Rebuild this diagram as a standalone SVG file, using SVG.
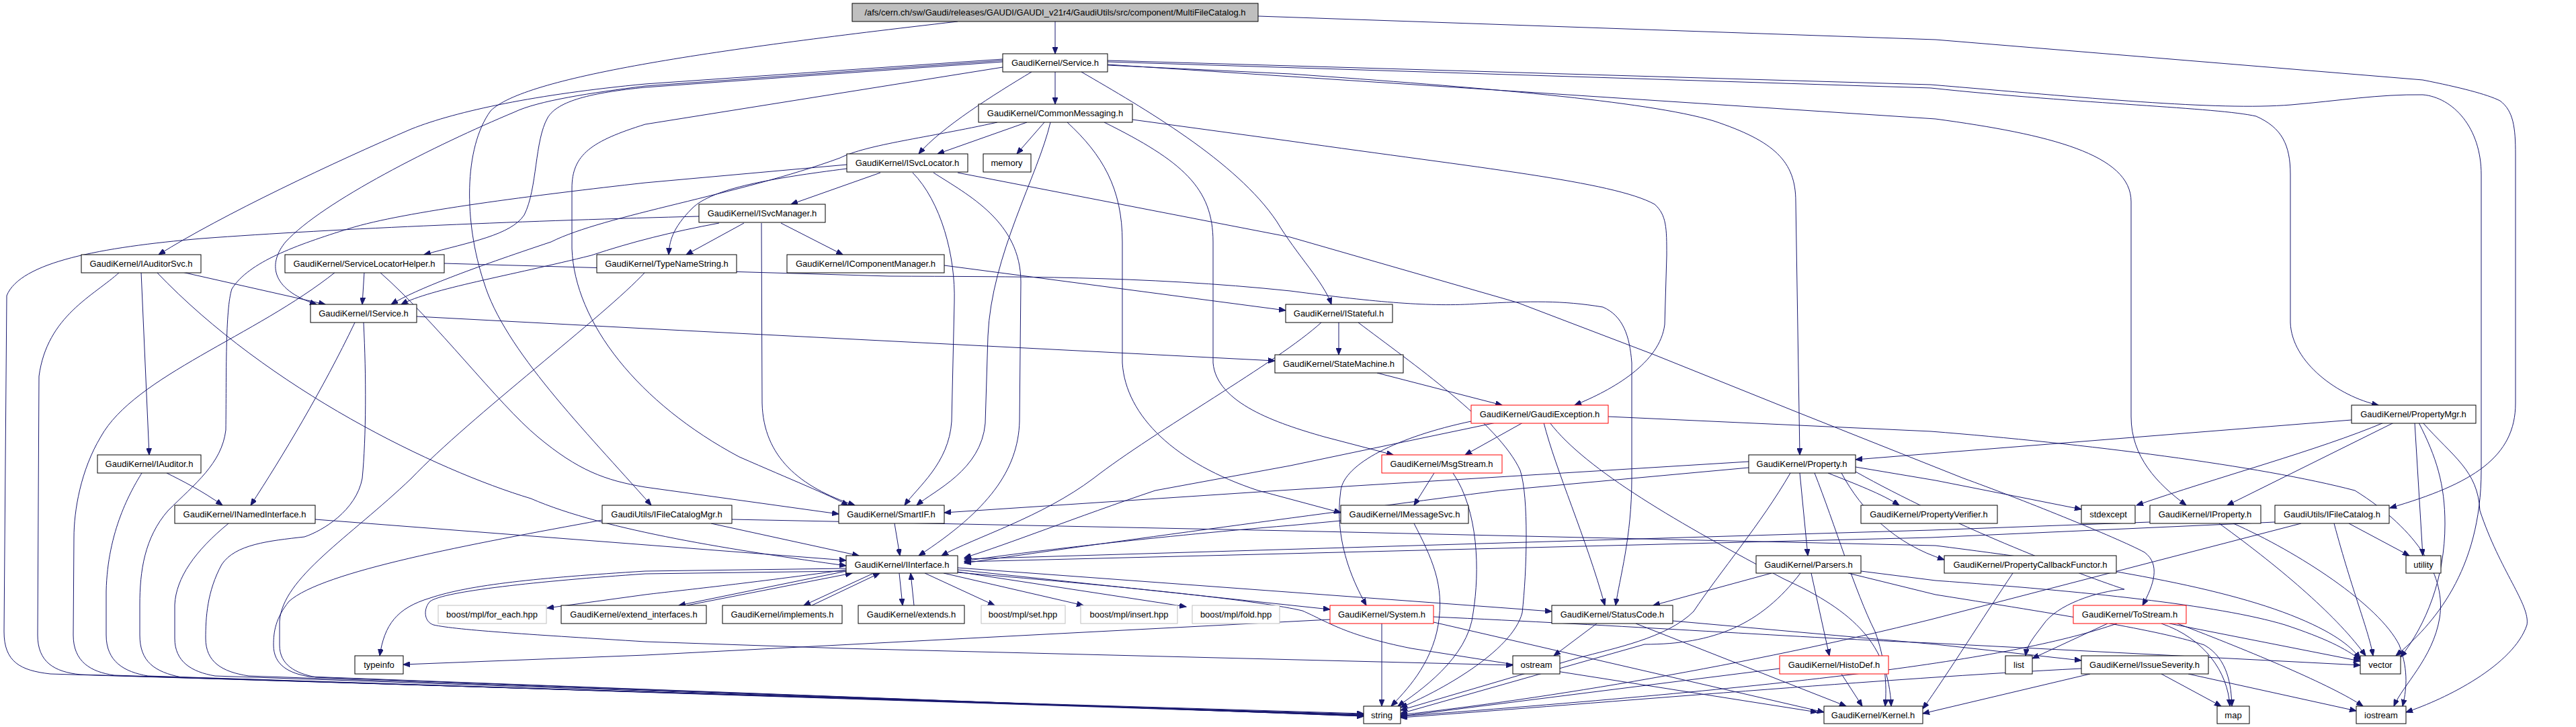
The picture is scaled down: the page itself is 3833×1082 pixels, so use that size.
<svg xmlns="http://www.w3.org/2000/svg" width="3833" height="1082" viewBox="0 0 3833 1082">
<style>
.n rect{fill:#fff;stroke:#000;stroke-width:1}
.m rect{fill:#bfbfbf}
.r rect{stroke:#ff0000}
.g rect{stroke:#bfbfbf}
text{font-family:"Liberation Sans",Arial,sans-serif;font-size:13px;text-anchor:middle;fill:#000}
.e path{fill:none;stroke:#191970;stroke-width:1;marker-end:url(#a)}
</style>
<defs>
<marker id="a" markerUnits="userSpaceOnUse" markerWidth="11" markerHeight="8" refX="10" refY="4" orient="auto"><path d="M0,0 L10,4 L0,8 z" fill="#191970" stroke="#191970"/></marker>
</defs>
<rect width="3833" height="1082" fill="#fff"/>
<g id="edges" class="e">
<path d="M1570,32 L1570,80"/>
<path d="M1425,32 C1050,75 780,115 730,165 C690,220 690,330 720,420 C750,520 870,640 969,752"/>
<path d="M1872,24 L2880,59 L3605,119 C3660,130 3700,140 3720,150 C3740,165 3743,190 3743,230 L3743,600 C3743,680 3680,720 3556,756"/>
<path d="M1570,107 L1570,155"/>
<path d="M1535,107 C1480,140 1400,190 1367,229"/>
<path d="M1492,88 L960,125 C800,140 680,165 612,192 C500,240 330,320 236,379"/>
<path d="M1492,90 L960,128 C880,138 800,150 765,167 C650,215 480,300 425,360 C400,390 400,430 471,453"/>
<path d="M1492,92 L960,130 C880,138 830,150 815,175 C795,210 800,280 780,320 C760,350 700,360 631,379"/>
<path d="M1492,100 L960,185 C880,210 851,230 851,280 L851,370 C855,480 950,600 1100,680 C1180,715 1230,735 1262,752"/>
<path d="M1609,107 C1700,160 1840,240 1900,330 C1930,380 1970,420 1981,453"/>
<path d="M1648,97 L1920,110 C2200,130 2450,150 2550,180 C2640,210 2672,240 2672,300 L2678,677"/>
<path d="M1648,96 L2880,177 C3050,200 3171,230 3171,300 L3171,620 C3171,680 3210,720 3253,752"/>
<path d="M1648,92 L2873,131 C3100,155 3300,160 3357,173 C3395,190 3408,215 3408,260 L3408,480 C3410,540 3480,590 3539,603"/>
<path d="M1648,90 L2873,126 C3100,145 3300,165 3409,156 C3480,150 3540,140 3605,141 C3650,145 3692,190 3692,260 L3692,700 C3692,850 3620,930 3565,976"/>
<path d="M1528,182 L1395,229"/>
<path d="M1554,182 L1513,229"/>
<path d="M1484,182 C1380,205 1290,215 1250,235 C1100,290 900,320 820,360 C700,400 620,430 582,453"/>
<path d="M1563,182 C1545,260 1475,380 1470,500 L1466,630 C1460,700 1390,730 1364,752"/>
<path d="M1358,257 C1400,300 1422,380 1420,450 L1416,627 C1412,690 1365,725 1346,752"/>
<path d="M1389,257 C1440,290 1519,330 1519,420 L1517,627 C1515,700 1470,760 1367,827"/>
<path d="M1588,182 C1640,230 1670,280 1670,360 L1670,540 C1675,620 1750,690 1872,730 L1995,763"/>
<path d="M1643,182 C1760,240 1805,280 1805,360 L1805,540 C1810,600 1900,630 1970,650 L2073,677"/>
<path d="M1685,178 L1920,210 C2200,250 2400,270 2462,304 C2480,320 2480,340 2480,380 L2477,483 C2470,540 2400,580 2343,603"/>
<path d="M1310,257 L1177,304"/>
<path d="M1260,251 C1150,265 1060,280 1030,310 C1000,340 996,360 995,379"/>
<path d="M1260,245 L960,272 C800,290 600,315 520,340 C440,365 370,390 345,430 C335,460 337,560 336,640 C330,690 290,720 250,760 C215,800 208,850 208,900 L208,945 C208,985 230,1000 270,1008 L2029,1065"/>
<path d="M1425,257 L1920,353 L2257,450 L2459,527 L2673,613 L2922,712 C3000,740 3150,800 3191,822 C3215,840 3205,870 3188,901"/>
<path d="M1070,332 C1000,345 940,360 880,380 C760,410 640,430 597,453"/>
<path d="M1107,332 L1021,379"/>
<path d="M1162,332 L1254,379"/>
<path d="M1133,332 L1134,600 C1136,680 1190,725 1272,752"/>
<path d="M1040,322 C800,328 500,340 300,355 C150,368 30,390 10,440 L6,940 C6,985 30,998 75,1003 L2029,1062"/>
<path d="M271,405 L484,453"/>
<path d="M210,405 L222,677"/>
<path d="M233,405 C400,580 650,700 790,742 C900,790 1100,820 1259,842"/>
<path d="M178,405 C140,440 70,470 58,560 L56,945 C56,985 80,1000 120,1004 L2029,1063"/>
<path d="M542,405 L539,453"/>
<path d="M565,405 C650,480 740,600 800,650 C860,700 900,715 960,725 L1248,765"/>
<path d="M661,392 L1323,411 C1500,412 1700,410 1920,433 C2050,450 2128,457 2200,452 C2280,448 2324,447 2385,457 C2415,470 2425,500 2428,540 L2428,712 C2428,800 2410,860 2404,901"/>
<path d="M499,405 C380,500 200,560 150,650 C120,700 110,760 110,800 L109,945 C109,985 135,1000 170,1005 L2029,1064"/>
<path d="M960,405 C900,470 700,620 612,712 C520,800 420,860 416,925 L416,960 C416,990 440,1002 470,1008 L2029,1066"/>
<path d="M1405,395 L1913,462"/>
<path d="M528,480 C480,580 420,680 373,752"/>
<path d="M620,471 L960,489 L1897,537"/>
<path d="M541,480 C545,560 545,650 539,712 C530,760 480,790 453,799 C400,805 350,810 330,840 C308,880 306,920 306,950 C306,985 330,1000 370,1006 L2029,1065"/>
<path d="M1992,480 L1992,528"/>
<path d="M1966,480 C1900,540 1720,640 1627,712 C1550,770 1450,800 1401,827"/>
<path d="M2021,480 C2100,540 2230,630 2262,700 C2275,740 2272,850 2265,912 C2250,970 2140,1030 2084,1053"/>
<path d="M2049,555 L2235,603"/>
<path d="M248,704 C270,715 300,730 331,752"/>
<path d="M211,704 C195,730 160,790 158,880 L158,945 C158,985 185,1000 220,1006 L2029,1064"/>
<path d="M469,773 L1259,834"/>
<path d="M340,779 C290,820 262,860 260,900 L260,950 C260,985 285,1000 320,1006 L2029,1065"/>
<path d="M1058,779 L1278,827"/>
<path d="M896,774 C700,810 480,850 430,895 C410,920 407,940 407,960 C407,990 430,1002 460,1007 L2029,1066"/>
<path d="M1089,773 L1920,790 L2880,812 C3100,840 3300,870 3420,920 C3480,945 3500,965 3512,980"/>
<path d="M1331,779 L1339,827"/>
<path d="M2189,627 C2080,650 2000,690 1995,730 C1985,800 2010,860 2033,901"/>
<path d="M2266,629 L2180,677"/>
<path d="M2297,629 C2315,700 2360,800 2388,901"/>
<path d="M2306,629 C2360,700 2500,780 2655,862 C2760,910 2810,960 2814,1051"/>
<path d="M2226,629 L1920,693 L1719,730 C1600,770 1500,810 1435,830"/>
<path d="M2393,620 L2873,642 C3100,660 3363,693 3504,730 C3600,790 3640,860 3630,920 C3620,980 3575,1020 3562,1051"/>
<path d="M2134,704 L2104,752"/>
<path d="M2162,704 C2200,760 2202,850 2192,912 C2185,980 2110,1030 2080,1051"/>
<path d="M2104,779 C2130,830 2150,870 2140,930 C2130,990 2090,1030 2070,1051"/>
<path d="M1995,775 L1920,782 C1700,800 1500,825 1435,835"/>
<path d="M2678,704 L2690,827"/>
<path d="M2720,704 C2760,720 2800,735 2826,752"/>
<path d="M2761,695 L2880,715 L3097,758"/>
<path d="M2740,704 C2770,760 2820,810 2893,833"/>
<path d="M2664,704 C2620,780 2560,850 2520,910 C2480,950 2400,965 2349,979 L2084,1057"/>
<path d="M2700,704 C2730,780 2760,880 2790,940 C2805,980 2808,1020 2805,1051"/>
<path d="M2602,687 L1920,729 L1405,763"/>
<path d="M2602,696 L2232,730 C2000,760 1700,800 1435,838"/>
<path d="M2761,702 C2900,780 3080,850 3161,877 C3120,880 3060,900 3040,930 C3025,950 3016,960 3014,976"/>
<path d="M2636,853 L2460,901"/>
<path d="M2679,853 C2620,930 2550,959 2447,959 L2084,1062"/>
<path d="M2695,853 L2722,976"/>
<path d="M2769,850 L2880,864 C3100,880 3300,900 3400,930 C3460,950 3490,965 3512,982"/>
<path d="M2750,853 L2880,885 C3100,920 3220,940 3280,960 C3315,980 3320,1020 3321,1051"/>
<path d="M3499,625 L2761,684"/>
<path d="M3547,629 C3450,670 3300,710 3179,752"/>
<path d="M3562,629 L3314,752"/>
<path d="M3593,629 L3605,827"/>
<path d="M3599,629 C3625,680 3638,720 3638,780 C3638,860 3610,930 3572,978"/>
<path d="M3605,629 C3650,680 3687,700 3690,760 C3720,850 3765,900 3760,930 C3740,990 3640,1040 3580,1060"/>
<path d="M3199,777 L2873,789 L1435,832"/>
<path d="M3302,779 C3400,850 3480,920 3520,976"/>
<path d="M3323,779 C3420,822 3540,900 3570,960 C3585,1000 3580,1030 3575,1051"/>
<path d="M3385,777 L2873,800 L1435,836"/>
<path d="M3495,779 L3585,827"/>
<path d="M3473,779 C3500,880 3525,940 3531,976"/>
<path d="M3424,779 L2873,922 C2600,990 2300,1040 2084,1064"/>
<path d="M2995,853 C2950,920 2900,1000 2861,1055"/>
<path d="M3136,928 L3024,980"/>
<path d="M3228,928 L3512,984"/>
<path d="M3216,928 C3280,950 3315,1000 3318,1051"/>
<path d="M3240,928 C3350,970 3470,1020 3516,1051"/>
<path d="M3150,928 C3000,980 2700,1020 2084,1066"/>
<path d="M3216,1003 L3305,1051"/>
<path d="M3256,1003 L3506,1058"/>
<path d="M3097,995 C2800,1010 2400,1045 2084,1068"/>
<path d="M3110,1003 L2861,1062"/>
<path d="M2648,995 L2084,1066"/>
<path d="M2740,1003 L2771,1051"/>
<path d="M2376,928 L2312,976"/>
<path d="M2434,928 L2747,1051"/>
<path d="M2489,924 L2880,959 L3097,983"/>
<path d="M2056,928 L2056,1051"/>
<path d="M2133,926 L2714,1060"/>
<path d="M1979,922 L960,975 L600,989"/>
<path d="M2133,918 C2400,930 2700,950 2873,957 L3512,990"/>
<path d="M1259,846 L960,850 C800,860 700,870 640,890 C590,905 572,930 565,976"/>
<path d="M1259,850 L960,854 C800,865 660,880 640,895 C630,905 630,925 645,930 C680,938 800,945 960,955 L1254,965 L2251,990"/>
<path d="M1259,848 C1100,870 1000,880 960,885 L814,905"/>
<path d="M1259,850 L1010,901"/>
<path d="M1022,901 L1268,853"/>
<path d="M1300,853 L1196,901"/>
<path d="M1208,901 L1309,853"/>
<path d="M1338,853 L1343,901"/>
<path d="M1360,901 L1355,853"/>
<path d="M1376,853 L1480,901"/>
<path d="M1404,853 L1612,901"/>
<path d="M1425,851 L1765,903"/>
<path d="M1425,848 L1979,907"/>
<path d="M1425,845 L2309,910"/>
<path d="M1425,852 C1700,875 1880,895 1938,909 C1975,925 2000,945 2100,965 L2704,1060"/>
</g>
<g id="n_main" class="n m"><rect x="1268" y="5" width="604" height="27"/><text x="1570" y="23">/afs/cern.ch/sw/Gaudi/releases/GAUDI/GAUDI_v21r4/GaudiUtils/src/component/MultiFileCatalog.h</text></g>
<g id="n_service" class="n"><rect x="1492" y="80" width="156" height="27"/><text x="1570" y="98">GaudiKernel/Service.h</text></g>
<g id="n_commonmessaging" class="n"><rect x="1456" y="155" width="229" height="27"/><text x="1570" y="173">GaudiKernel/CommonMessaging.h</text></g>
<g id="n_isvclocator" class="n"><rect x="1260" y="229" width="180" height="27"/><text x="1350" y="247">GaudiKernel/ISvcLocator.h</text></g>
<g id="n_memory" class="n"><rect x="1463" y="229" width="71" height="27"/><text x="1498" y="247">memory</text></g>
<g id="n_isvcmanager" class="n"><rect x="1040" y="304" width="188" height="27"/><text x="1134" y="322">GaudiKernel/ISvcManager.h</text></g>
<g id="n_iauditorsvc" class="n"><rect x="121" y="379" width="178" height="27"/><text x="210" y="397">GaudiKernel/IAuditorSvc.h</text></g>
<g id="n_servicelocatorhelper" class="n"><rect x="424" y="379" width="237" height="27"/><text x="542" y="397">GaudiKernel/ServiceLocatorHelper.h</text></g>
<g id="n_typenamestring" class="n"><rect x="888" y="379" width="208" height="27"/><text x="992" y="397">GaudiKernel/TypeNameString.h</text></g>
<g id="n_icomponentmanager" class="n"><rect x="1171" y="379" width="234" height="27"/><text x="1288" y="397">GaudiKernel/IComponentManager.h</text></g>
<g id="n_iservice" class="n"><rect x="462" y="453" width="158" height="27"/><text x="541" y="471">GaudiKernel/IService.h</text></g>
<g id="n_istateful" class="n"><rect x="1913" y="453" width="159" height="27"/><text x="1992" y="471">GaudiKernel/IStateful.h</text></g>
<g id="n_statemachine" class="n"><rect x="1897" y="528" width="191" height="27"/><text x="1992" y="546">GaudiKernel/StateMachine.h</text></g>
<g id="n_gaudiexception" class="n r"><rect x="2189" y="603" width="204" height="27"/><text x="2291" y="621">GaudiKernel/GaudiException.h</text></g>
<g id="n_propertymgr" class="n"><rect x="3499" y="603" width="185" height="27"/><text x="3591" y="621">GaudiKernel/PropertyMgr.h</text></g>
<g id="n_iauditor" class="n"><rect x="145" y="677" width="154" height="27"/><text x="222" y="695">GaudiKernel/IAuditor.h</text></g>
<g id="n_msgstream" class="n r"><rect x="2056" y="677" width="179" height="27"/><text x="2145" y="695">GaudiKernel/MsgStream.h</text></g>
<g id="n_property" class="n"><rect x="2602" y="677" width="159" height="27"/><text x="2681" y="695">GaudiKernel/Property.h</text></g>
<g id="n_inamedinterface" class="n"><rect x="260" y="752" width="209" height="27"/><text x="364" y="770">GaudiKernel/INamedInterface.h</text></g>
<g id="n_ifilecatalogmgr" class="n"><rect x="896" y="752" width="193" height="27"/><text x="992" y="770">GaudiUtils/IFileCatalogMgr.h</text></g>
<g id="n_smartif" class="n"><rect x="1248" y="752" width="157" height="27"/><text x="1326" y="770">GaudiKernel/SmartIF.h</text></g>
<g id="n_imessagesvc" class="n"><rect x="1995" y="752" width="190" height="27"/><text x="2090" y="770">GaudiKernel/IMessageSvc.h</text></g>
<g id="n_propertyverifier" class="n"><rect x="2769" y="752" width="203" height="27"/><text x="2870" y="770">GaudiKernel/PropertyVerifier.h</text></g>
<g id="n_stdexcept" class="n"><rect x="3097" y="752" width="80" height="27"/><text x="3137" y="770">stdexcept</text></g>
<g id="n_iproperty" class="n"><rect x="3199" y="752" width="165" height="27"/><text x="3281" y="770">GaudiKernel/IProperty.h</text></g>
<g id="n_ifilecatalog" class="n"><rect x="3385" y="752" width="170" height="27"/><text x="3470" y="770">GaudiUtils/IFileCatalog.h</text></g>
<g id="n_iinterface" class="n"><rect x="1259" y="827" width="166" height="26"/><text x="1342" y="845">GaudiKernel/IInterface.h</text></g>
<g id="n_parsers" class="n"><rect x="2613" y="827" width="156" height="26"/><text x="2691" y="845">GaudiKernel/Parsers.h</text></g>
<g id="n_propertycallbackfunctor" class="n"><rect x="2893" y="827" width="256" height="26"/><text x="3021" y="845">GaudiKernel/PropertyCallbackFunctor.h</text></g>
<g id="n_utility" class="n"><rect x="3580" y="827" width="52" height="26"/><text x="3606" y="845">utility</text></g>
<g id="n_for_each" class="n g"><rect x="652" y="901" width="161" height="27"/><text x="732" y="919">boost/mpl/for_each.hpp</text></g>
<g id="n_extend_interfaces" class="n"><rect x="835" y="901" width="216" height="27"/><text x="943" y="919">GaudiKernel/extend_interfaces.h</text></g>
<g id="n_implements" class="n"><rect x="1075" y="901" width="178" height="27"/><text x="1164" y="919">GaudiKernel/implements.h</text></g>
<g id="n_extends" class="n"><rect x="1277" y="901" width="158" height="27"/><text x="1356" y="919">GaudiKernel/extends.h</text></g>
<g id="n_set" class="n g"><rect x="1460" y="901" width="125" height="27"/><text x="1522" y="919">boost/mpl/set.hpp</text></g>
<g id="n_insert" class="n g"><rect x="1608" y="901" width="144" height="27"/><text x="1680" y="919">boost/mpl/insert.hpp</text></g>
<g id="n_fold" class="n g"><rect x="1774" y="901" width="130" height="27"/><text x="1839" y="919">boost/mpl/fold.hpp</text></g>
<g id="n_system" class="n r"><rect x="1979" y="901" width="154" height="27"/><text x="2056" y="919">GaudiKernel/System.h</text></g>
<g id="n_statuscode" class="n"><rect x="2309" y="901" width="180" height="27"/><text x="2399" y="919">GaudiKernel/StatusCode.h</text></g>
<g id="n_tostream" class="n r"><rect x="3085" y="901" width="168" height="27"/><text x="3169" y="919">GaudiKernel/ToStream.h</text></g>
<g id="n_typeinfo" class="n"><rect x="528" y="976" width="72" height="27"/><text x="564" y="994">typeinfo</text></g>
<g id="n_ostream" class="n"><rect x="2251" y="976" width="70" height="27"/><text x="2286" y="994">ostream</text></g>
<g id="n_histodef" class="n r"><rect x="2648" y="976" width="162" height="27"/><text x="2729" y="994">GaudiKernel/HistoDef.h</text></g>
<g id="n_list" class="n"><rect x="2984" y="976" width="40" height="27"/><text x="3004" y="994">list</text></g>
<g id="n_issueseverity" class="n"><rect x="3097" y="976" width="189" height="27"/><text x="3191" y="994">GaudiKernel/IssueSeverity.h</text></g>
<g id="n_vector" class="n"><rect x="3512" y="976" width="60" height="27"/><text x="3542" y="994">vector</text></g>
<g id="n_string" class="n"><rect x="2029" y="1051" width="55" height="26"/><text x="2056" y="1069">string</text></g>
<g id="n_kernel" class="n"><rect x="2714" y="1051" width="147" height="26"/><text x="2787" y="1069">GaudiKernel/Kernel.h</text></g>
<g id="n_map" class="n"><rect x="3299" y="1051" width="48" height="26"/><text x="3323" y="1069">map</text></g>
<g id="n_iostream" class="n"><rect x="3506" y="1051" width="74" height="26"/><text x="3543" y="1069">iostream</text></g>
</svg>
